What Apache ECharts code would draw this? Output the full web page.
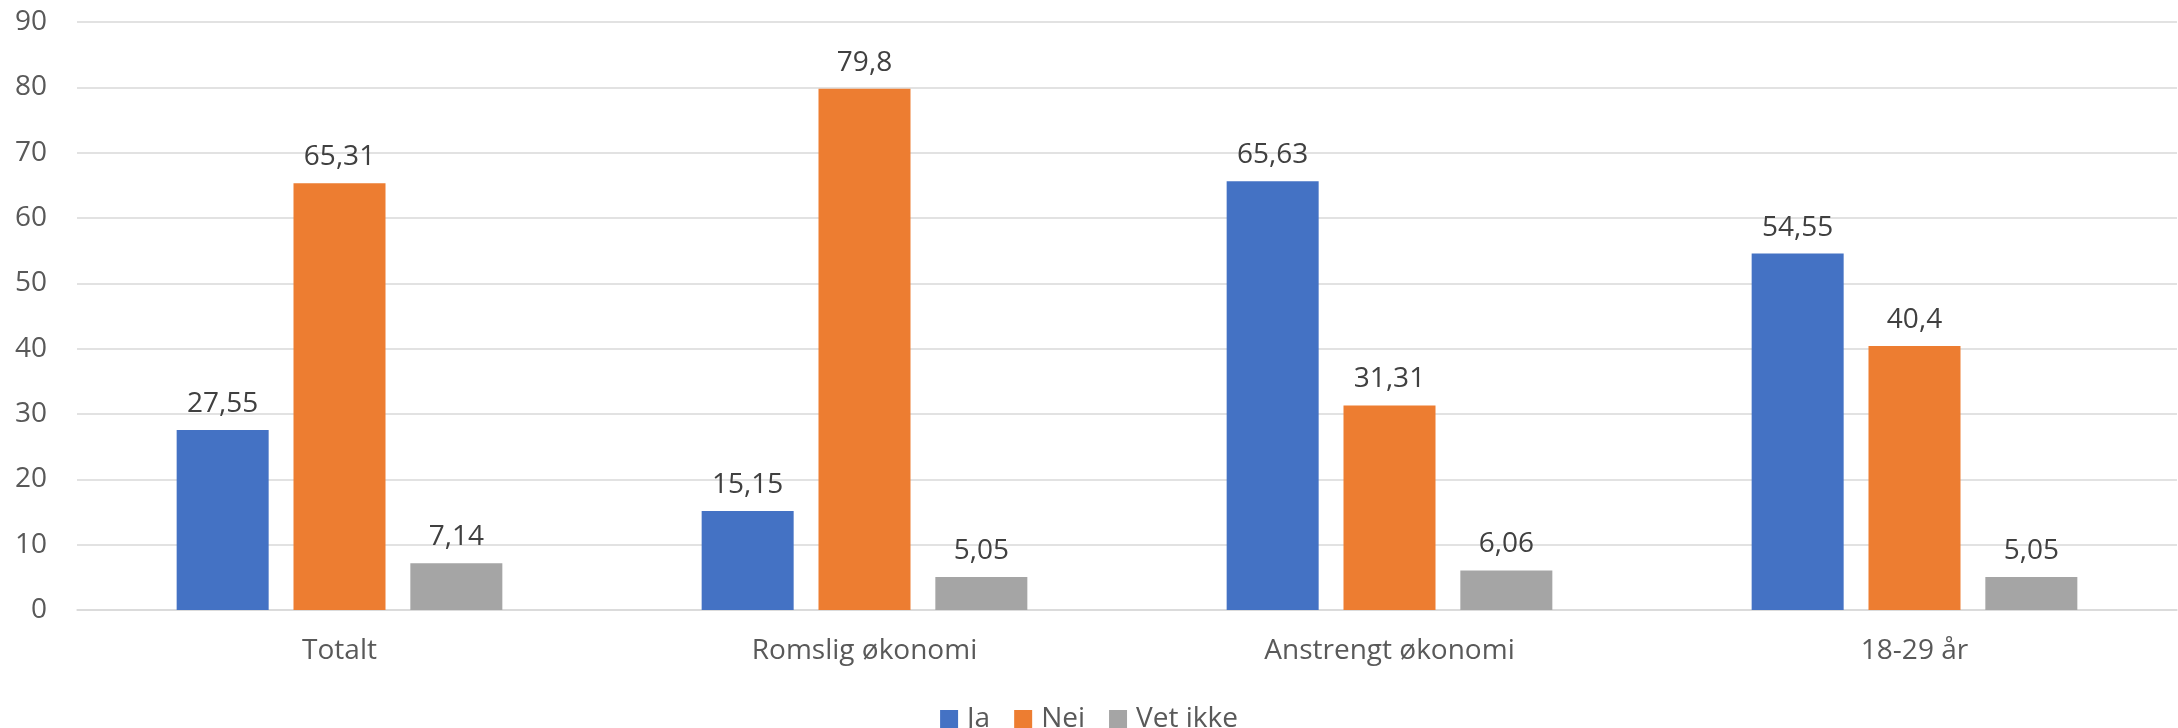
<!DOCTYPE html>
<html>
<head>
<meta charset="utf-8">
<script src="https://cdn.jsdelivr.net/npm/echarts@6/dist/echarts.min.js"></script>
<style>
html,body{margin:0;padding:0;background:#fff;}
#chart{width:2178px;height:728px;}
</style>
</head>
<body>
<div id="chart"></div>
<script>
const categories = ['Totalt', 'Romslig økonomi', 'Anstrengt økonomi', '18-29 år'];
const seriesNames = ['Ja', 'Nei', 'Vet ikke'];
const jaValues = [27.55, 15.15, 65.63, 54.55];
const neiValues = [65.31, 79.8, 31.31, 40.4];
const vetIkkeValues = [7.14, 5.05, 6.06, 5.05];
const colors = ['#4472C4', '#ED7D31', '#A5A5A5'];

const FONT = '"Open Sans", "Noto Sans", sans-serif';
const fmt = v => String(v).replace('.', ',');

const chart = echarts.init(document.getElementById('chart'), null, {renderer: 'canvas'});

function makeSeries(name, data, color) {
  return {
    name: name,
    type: 'bar',
    data: data,
    barWidth: 92,
    barGap: '27%',
    itemStyle: {color: color},
    label: {
      show: true,
      position: 'top',
      distance: 12,
      color: '#404040',
      fontFamily: FONT,
      fontSize: 28,
      formatter: p => fmt(p.value)
    },
    emphasis: {disabled: true}
  };
}

chart.setOption({
  animation: false,
  textStyle: {fontFamily: FONT},
  color: colors,
  grid: {left: 77, right: 1, top: 22, bottom: 118, containLabel: false},
  legend: {
    data: seriesNames,
    left: 'center',
    top: 697,
    icon: 'rect',
    itemWidth: 18,
    itemHeight: 18,
    itemGap: 24,
    textStyle: {color: '#595959', fontFamily: FONT, fontSize: 28, lineHeight: 34, padding: [0, 0, 0, 4]}
  },
  xAxis: {
    type: 'category',
    data: categories,
    axisLine: {show: true, lineStyle: {color: '#d9d9d9', width: 1.5}},
    axisTick: {show: false},
    axisLabel: {color: '#595959', fontFamily: FONT, fontSize: 28, margin: 27}
  },
  yAxis: {
    type: 'value',
    min: 0,
    max: 90,
    interval: 10,
    axisLine: {show: false},
    axisTick: {show: false},
    splitLine: {lineStyle: {color: '#d9d9d9', width: 1.5}},
    axisLabel: {color: '#595959', fontFamily: FONT, fontSize: 28, margin: 30}
  },
  series: [
    makeSeries(seriesNames[0], jaValues, colors[0]),
    makeSeries(seriesNames[1], neiValues, colors[1]),
    makeSeries(seriesNames[2], vetIkkeValues, colors[2])
  ]
});
</script>
</body>
</html>
